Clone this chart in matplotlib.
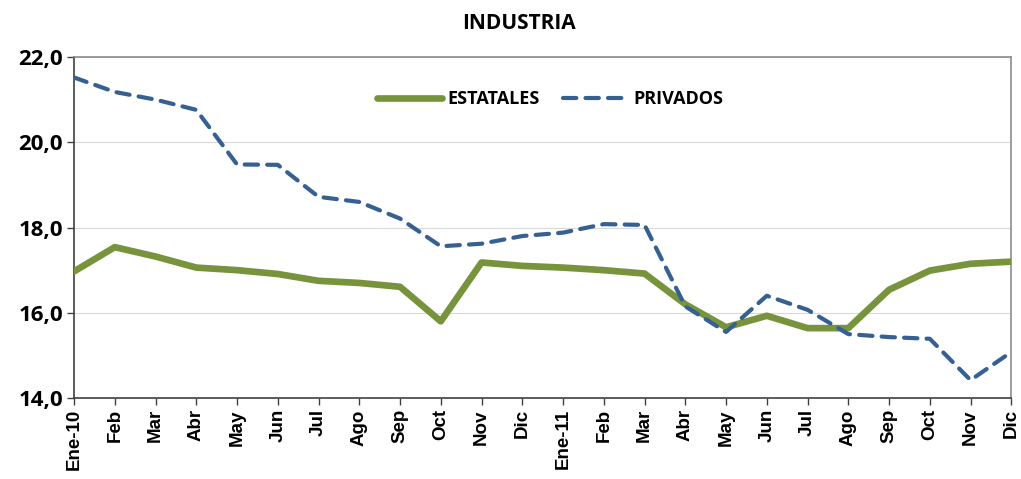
import matplotlib.pyplot as plt
from matplotlib.ticker import FuncFormatter

months = ["Ene-10", "Feb", "Mar", "Abr", "May", "Jun", "Jul", "Ago", "Sep", "Oct", "Nov", "Dic",
          "Ene-11", "Feb", "Mar", "Abr", "May", "Jun", "Jul", "Ago", "Sep", "Oct", "Nov", "Dic"]
estatales = [16.97, 17.54, 17.32, 17.06, 17.0, 16.91, 16.75, 16.70, 16.61, 15.80, 17.18, 17.10,
             17.06, 17.0, 16.92, 16.20, 15.66, 15.93, 15.64, 15.64, 16.54, 16.99, 17.15, 17.20]
privados = [21.52, 21.18, 21.0, 20.76, 19.48, 19.47, 18.72, 18.60, 18.21, 17.56, 17.62, 17.80,
            17.88, 18.08, 18.06, 16.15, 15.55, 16.40, 16.07, 15.50, 15.43, 15.39, 14.42, 15.08]

label_font = ["Open Sans", "DejaVu Sans"]

fig = plt.figure(figsize=(10.21, 4.79), dpi=100)
ax = fig.add_axes([0.0725, 0.169, 0.918, 0.712])

x = range(len(months))
ax.plot(x, estatales, color="#77933c", lw=4.8, solid_capstyle="round",
        solid_joinstyle="round", label="ESTATALES", zorder=3)
ax.plot(x, privados, color="#376092", lw=3.0, linestyle=(0, (3.2, 2.2)),
        dash_capstyle="round", label="PRIVADOS", zorder=4)

ax.set_xlim(0, len(months) - 1)
ax.set_ylim(14, 22)
ax.set_yticks([14, 16, 18, 20, 22])
ax.yaxis.set_major_formatter(FuncFormatter(lambda v, p: f"{v:.1f}".replace(".", ",")))
ax.grid(axis="y", color="#d9d9d9", lw=0.8)
ax.set_axisbelow(True)

ax.set_xticks(list(x))
ax.set_xticklabels(months, rotation=90, fontsize=13.5, fontweight="bold", family="Liberation Sans")
for lbl in ax.get_yticklabels():
    lbl.set_fontsize(16)
    lbl.set_fontweight("bold")
    lbl.set_family(label_font)
ax.tick_params(axis="both", direction="out", length=5, width=1, color="#404040", pad=3)

for side in ("left", "bottom"):
    ax.spines[side].set_color("#404040")
    ax.spines[side].set_linewidth(1.2)
for side in ("top", "right"):
    ax.spines[side].set_color("#8c8c8c")
    ax.spines[side].set_linewidth(1.2)

ax.legend(loc="upper center", bbox_to_anchor=(0.508, 0.95), ncol=2, frameon=False,
          handlelength=3.6, columnspacing=1.3, handletextpad=0.3,
          prop={"family": label_font, "weight": "bold", "size": 13})

fig.suptitle("INDUSTRIA", x=0.508, y=0.973, fontsize=15, fontweight="bold", family=label_font)

fig.savefig("out.png", dpi=100)
